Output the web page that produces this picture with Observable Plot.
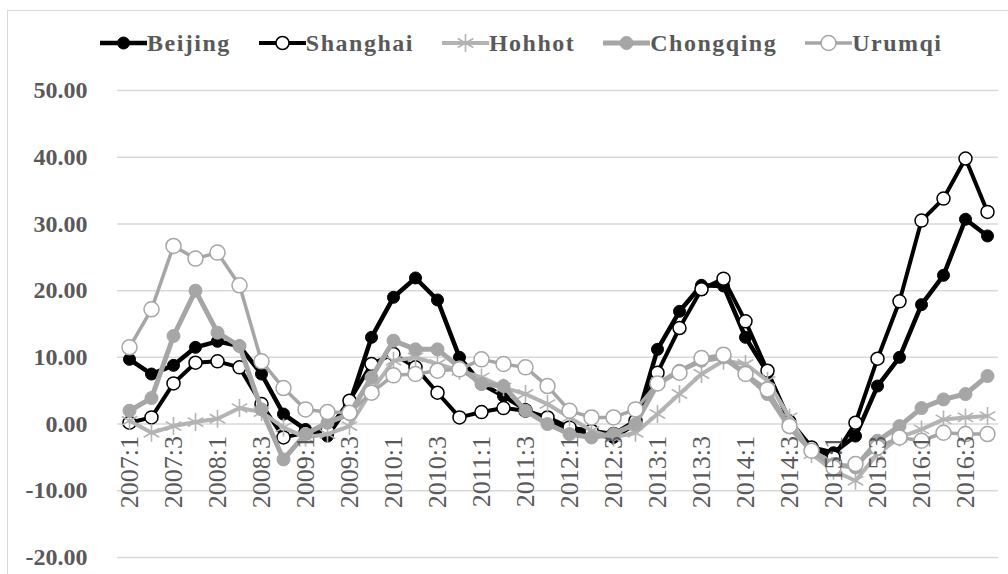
<!DOCTYPE html>
<html>
<head>
<meta charset="utf-8">
<script src="https://cdn.jsdelivr.net/npm/d3@7"></script>
<script src="https://cdn.jsdelivr.net/npm/@observablehq/plot@0.6"></script>
<style>
  html, body { margin: 0; padding: 0; background: #fff; overflow: hidden; }
  #wrap { position: relative; width: 1008px; height: 574px; }
  #frame { position: absolute; left: 7px; top: 10px; width: 1100px; height: 700px; border: 1px solid #d9d9d9; pointer-events: none; }
  #legend { position: relative; height: 70px; }
  #legend .row { position: absolute; left: 100px; top: 31px; height: 24px; display: flex; align-items: center; gap: 28px; }
  #legend .item { display: flex; align-items: center; }
  #legend .item span { font-family: "Liberation Serif", serif; font-size: 24px; font-weight: bold; color: #595959; letter-spacing: 1.5px; line-height: 24px; }
  #chart { position: relative; }
  g[aria-label^="y-axis"] text { font-weight: bold; }
  g[aria-label="xlabels"] text { letter-spacing: 1.5px; }
</style>
</head>
<body>
<div id="wrap">
  <div id="frame"></div>
  <div id="legend"><div class="row"></div></div>
  <div id="chart"></div>
</div>
<script>
const quarters = ["2007:1","2007:2","2007:3","2007:4","2008:1","2008:2","2008:3","2008:4",
  "2009:1","2009:2","2009:3","2009:4","2010:1","2010:2","2010:3","2010:4",
  "2011:1","2011:2","2011:3","2011:4","2012:1","2012:2","2012:3","2012:4",
  "2013:1","2013:2","2013:3","2013:4","2014:1","2014:2","2014:3","2014:4",
  "2015:1","2015:2","2015:3","2015:4","2016:1","2016:2","2016:3","2016:4"];
const xTickLabels = ["2007:1","2007:3","2008:1","2008:3","2009:1","2009:3","2010:1","2010:3",
  "2011:1","2011:3","2012:1","2012:3","2013:1","2013:3","2014:1","2014:3",
  "2015:1","2015:3","2016:1","2016:3"];
const yTicks = [-20, -10, 0, 10, 20, 30, 40, 50];
const cities = ["Beijing", "Shanghai", "Hohhot", "Chongqing", "Urumqi"];

const beijing = [9.7,7.5,8.8,11.5,12.4,11.7,7.5,1.5,-0.8,-1.8,3.0,13.0,19.0,21.9,18.6,10.0,
  6.0,4.2,2.2,0.5,-0.8,-1.5,-2.0,0.0,11.2,16.9,20.8,20.7,13.0,7.7,0.5,-3.5,
  -4.3,-1.8,5.7,10.0,17.9,22.3,30.7,28.2];
const shanghai = [0.2,1.0,6.1,9.2,9.4,8.5,3.0,-2.0,-1.3,-1.0,3.5,9.0,10.5,8.5,4.7,1.0,
  1.8,2.4,2.0,1.0,-0.5,-1.0,-1.5,0.5,7.7,14.4,20.2,21.8,15.4,8.0,0.3,-3.5,
  -5.0,0.2,9.8,18.4,30.5,33.8,39.8,31.8];
const hohhot = [0.5,-1.3,-0.3,0.3,0.8,2.4,1.8,-0.5,-2.0,-1.5,-0.3,5.0,9.5,10.0,9.0,8.0,
  7.0,5.5,4.5,3.0,1.0,-1.0,-2.0,-1.3,1.5,4.5,7.5,9.5,9.0,6.5,1.0,-4.5,
  -7.0,-8.5,-4.5,-2.0,-0.8,0.7,1.0,1.2];
const chongqing = [2.0,3.9,13.2,20.0,13.7,11.7,2.2,-5.3,-1.5,0.2,1.5,7.0,12.5,11.2,11.2,8.5,
  6.0,5.7,2.0,0.0,-1.5,-2.0,-1.5,0.0,6.0,8.0,9.5,10.0,7.5,4.5,-0.5,-4.0,
  -6.0,-6.5,-2.5,-0.3,2.4,3.7,4.5,7.2];
const urumqi = [11.5,17.2,26.7,24.8,25.7,20.8,9.4,5.4,2.2,1.8,1.7,4.7,7.3,7.5,8.0,8.2,
  9.7,9.0,8.5,5.7,2.0,1.0,1.0,2.2,6.1,7.7,9.9,10.4,7.5,5.2,-0.3,-4.0,
  -6.5,-6.0,-3.5,-2.0,-2.5,-1.3,-1.5,-1.5];

const seriesValues = [beijing, shanghai, hohhot, chongqing, urumqi];

const styles = {
  Beijing:   {line: "#000000", lw: 4.5, symbol: "circle",   fill: "#000000", stroke: "#000000", r: 6,   sw: 1},
  Shanghai:  {line: "#000000", lw: 4,   symbol: "circle",   fill: "#ffffff", stroke: "#000000", r: 6.5, sw: 1.5},
  Hohhot:    {line: "#b3b3b3", lw: 4,   symbol: "asterisk", fill: "none",    stroke: "#b3b3b3", r: 8.5, sw: 1.6},
  Chongqing: {line: "#a6a6a6", lw: 5,   symbol: "circle",   fill: "#a6a6a6", stroke: "#a6a6a6", r: 6.5, sw: 1},
  Urumqi:    {line: "#a6a6a6", lw: 3.5, symbol: "circle",   fill: "#ffffff", stroke: "#a6a6a6", r: 7.5, sw: 1.5}
};

const rows = [];
cities.forEach((c, ci) => {
  quarters.forEach((q, qi) => rows.push({city: c, q, v: seriesValues[ci][qi]}));
});

const marks = [
  Plot.ruleY(yTicks, {stroke: "#d9d9d9", strokeWidth: 1.5})
];
cities.forEach(c => {
  const s = styles[c];
  const d = rows.filter(r => r.city === c);
  marks.push(Plot.line(d, {x: "q", y: "v", stroke: s.line, strokeWidth: s.lw, strokeLinejoin: "round"}));
  marks.push(Plot.dot(d, {x: "q", y: "v", r: s.r, symbol: s.symbol, fill: s.fill, stroke: s.stroke, strokeWidth: s.sw}));
});
marks.push(Plot.text(xTickLabels, {
  x: d => d, y: 0, text: d => d, rotate: -90, textAnchor: "end", dy: 12,
  fontSize: 26, fill: "#595959", fontFamily: "Liberation Serif", ariaLabel: "xlabels"
}));

const chart = Plot.plot({
  width: 1008,
  height: 504,
  marginTop: 20,
  marginBottom: 17,
  marginLeft: 117,
  marginRight: 10,
  style: {fontFamily: "Liberation Serif", fontSize: "24px", color: "#595959", background: "transparent"},
  x: {type: "point", domain: quarters, padding: 0.5, axis: null},
  y: {domain: [-20, 50], ticks: yTicks, tickSize: 0, tickPadding: 30, tickFormat: d => d.toFixed(2), label: null},
  marks
});
document.getElementById("chart").appendChild(chart);

// legend
const row = document.querySelector("#legend .row");
cities.forEach(c => {
  const s = styles[c];
  const item = document.createElement("div");
  item.className = "item";
  const svg = d3.create("svg").attr("width", 47).attr("height", 20);
  svg.append("line").attr("x1", 0).attr("x2", 47).attr("y1", 10).attr("y2", 10)
    .attr("stroke", s.line).attr("stroke-width", s.lw);
  const sym = s.symbol === "asterisk" ? d3.symbolAsterisk : d3.symbolCircle;
  svg.append("path").attr("transform", "translate(23.5,10)")
    .attr("d", d3.symbol(sym, Math.PI * s.r * s.r)())
    .attr("fill", s.fill).attr("stroke", s.stroke).attr("stroke-width", s.sw);
  item.appendChild(svg.node());
  const span = document.createElement("span");
  span.textContent = c;
  item.appendChild(span);
  row.appendChild(item);
});
</script>
</body>
</html>
